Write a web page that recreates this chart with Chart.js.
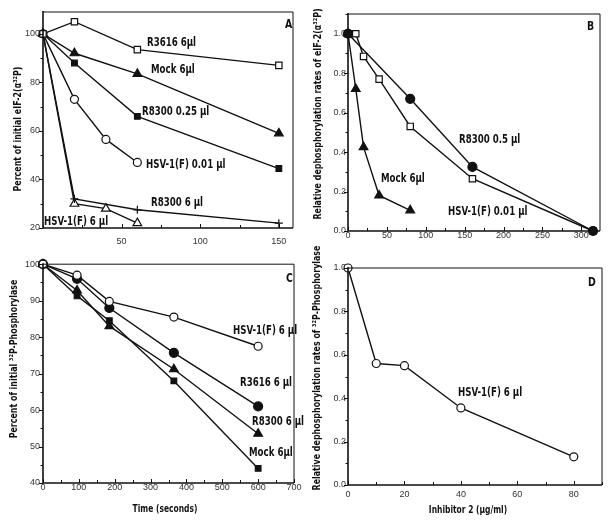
<!DOCTYPE html>
<html>
<head>
<meta charset="utf-8">
<script src="https://cdn.jsdelivr.net/npm/chart.js@4.4.1/dist/chart.umd.min.js"></script>
<style>
  body { margin: 0; background: #fff; }
  #page { position: relative; width: 616px; height: 524px; overflow: hidden; background: #fff; }
  canvas { position: absolute; }
</style>
</head>
<body>
<div id="page">
  <canvas id="chartA" width="300" height="258" style="left:0px;top:0px"></canvas>
  <canvas id="chartB" width="316" height="258" style="left:300px;top:0px"></canvas>
  <canvas id="chartC" width="312" height="266" style="left:0px;top:258px"></canvas>
  <canvas id="chartD" width="316" height="282" style="left:300px;top:242px"></canvas>
</div>
<script>
// Panel A - percent of initial eIF-2(a32P) vs time
let aTimeLong = [0, 20, 60, 150];
let aTimeShort = [0, 20, 40, 60];
let aR3616 = [100, 105, 93.5, 87];
let aMock = [100, 92, 83.5, 59];
let aR8300Low = [100, 88, 66, 44.5];
let aR8300High = [100, 32, 27.5, 22];
let aHsvLow = [100, 73, 56.5, 47];
let aHsvHigh = [100, 30, 28, 22];

// Panel B - relative dephosphorylation rates of eIF-2
let bDoseHsv = [0, 10, 20, 40, 80, 160, 315];
let bHsv = [1.0, 1.0, 0.885, 0.77, 0.53, 0.265, 0.0];
let bDoseR8300 = [0, 80, 160, 315];
let bR8300 = [1.0, 0.67, 0.325, 0.0];
let bDoseMock = [0, 10, 20, 40, 80];
let bMock = [1.0, 0.72, 0.425, 0.18, 0.105];

// Panel C - percent of initial 32P-phosphorylase vs time (seconds)
let cTime = [0, 95, 185, 365, 600];
let cHsv = [100, 97, 89.8, 85.5, 77.5];
let cR3616 = [100, 96, 88, 75.7, 61];
let cR8300 = [100, 92.8, 83, 71.2, 53.5];
let cMock = [100, 91.3, 84.5, 68, 44];

// Panel D - relative rates vs inhibitor 2 (ug/ml)
let dInhibitor = [0, 10, 20, 40, 80];
let dHsv = [1.0, 0.56, 0.55, 0.355, 0.13];

const BOLD = "'Liberation Sans Narrow', 'DejaVu Sans Condensed', 'Liberation Sans', sans-serif";
const LIGHT = "'Liberation Sans', Arial, sans-serif";
const SQUEEZE = 0.8;   // the figure uses a condensed bold face

// marker styles
const openSquare = { pointStyle: 'rect', pointRadius: 4.5, pointBackgroundColor: '#fff' };
const fillSquare = { pointStyle: 'rect', pointRadius: 4, pointBackgroundColor: '#111' };
const fillTriangle = { pointStyle: 'triangle', pointRadius: 5, pointBackgroundColor: '#111' };
const openTriangle = { pointStyle: 'triangle', pointRadius: 5, pointBackgroundColor: '#fff' };
const openCircle = { pointStyle: 'circle', pointRadius: 4, pointBackgroundColor: '#fff' };
const fillCircle = { pointStyle: 'circle', pointRadius: 4.5, pointBackgroundColor: '#111' };
const plusMark = { pointStyle: 'cross', pointRadius: 4, pointBackgroundColor: '#111' };

function series(xs, ys, marker) {
    return Object.assign({
        data: xs.map((x, i) => ({ x: x, y: ys[i] })),
        showLine: true,
        clip: false,
        borderColor: '#111',
        borderWidth: 1.4,
        pointBorderColor: '#111',
        pointBorderWidth: 1.2
    }, marker);
}

function isMultiple(v, step) {
    let r = v / step;
    return Math.abs(r - Math.round(r)) < 1e-6;
}

function axis(min, max, step, labelStep, size, pad, fmt, skipZero) {
    return {
        type: 'linear',
        min: min,
        max: max,
        grid: { display: false, drawTicks: false },
        border: { display: false },
        ticks: {
            stepSize: step,
            includeBounds: false,
            autoSkip: false,
            maxRotation: 0,
            padding: pad,
            color: '#333',
            font: { family: LIGHT, size: 9 },
            callback: v => (isMultiple(v, labelStep) && !(skipZero && v === 0)) ? fmt(v) : ''
        },
        afterFit: s => {
            if (s.isHorizontal()) s.height = size; else s.width = size;
            s.paddingLeft = 0; s.paddingRight = 0; s.paddingTop = 0; s.paddingBottom = 0;
        }
    };
}

// condensed bold lettering, optionally rotated
function boldText(ctx, text, x, y, size, align, rotate) {
    ctx.save();
    ctx.translate(x, y);
    if (rotate) ctx.rotate(-Math.PI / 2);
    ctx.scale(SQUEEZE, 1);
    ctx.font = 'bold ' + size + 'px ' + BOLD;
    ctx.textAlign = align;
    ctx.textBaseline = 'middle';
    ctx.fillStyle = '#111';
    ctx.fillText(text, 0, 0);
    ctx.restore();
}

// frame, tick marks and all the lettering of the figure
const paperPlugin = {
    id: 'paper',
    afterDraw(chart, args, opts) {
        let ctx = chart.ctx, a = chart.chartArea;
        let sx = chart.scales.x, sy = chart.scales.y;
        ctx.save();
        ctx.strokeStyle = '#111';
        ctx.lineWidth = 1;
        ctx.beginPath();
        ctx.moveTo(a.left, a.top); ctx.lineTo(a.right, a.top); ctx.lineTo(a.right, a.bottom);
        ctx.stroke();
        ctx.lineWidth = 1.6;
        ctx.beginPath();
        ctx.moveTo(a.left, a.top - 1); ctx.lineTo(a.left, a.bottom); ctx.lineTo(a.right, a.bottom);
        ctx.stroke();

        ctx.lineWidth = 1;
        ctx.beginPath();
        sy.ticks.forEach(t => {
            let py = Math.round(sy.getPixelForValue(t.value)) + 0.5;
            let len = t.label ? 4 : 2.5;
            ctx.moveTo(a.left - len, py); ctx.lineTo(a.left, py);
        });
        sx.ticks.forEach(t => {
            let px = Math.round(sx.getPixelForValue(t.value)) + 0.5;
            let len = t.label ? 4 : 3;
            ctx.moveTo(px, a.bottom); ctx.lineTo(px, a.bottom - len);
        });
        ctx.stroke();
        ctx.restore();

        opts.labels.forEach(l => boldText(ctx, l[0], l[1] - opts.dx, l[2] - opts.dy, 12, 'left'));
        boldText(ctx, opts.letter[0], opts.letter[1] - opts.dx, opts.letter[2] - opts.dy, 13, 'left');
        if (opts.xTitle) {
            boldText(ctx, opts.xTitle[0], opts.xTitle[1] - opts.dx, opts.xTitle[2] - opts.dy, 10.5, 'center');
        }
        boldText(ctx, opts.yTitle[0], opts.yTitle[1] - opts.dx, opts.yTitle[2] - opts.dy, 11, 'center', true);
    }
};

function makePanel(id, datasets, pad, xAxis, yAxis, paper) {
    let ctx = document.getElementById(id).getContext('2d');
    return new Chart(ctx, {
        type: 'scatter',
        data: { datasets: datasets },
        options: {
            responsive: false,
            animation: false,
            events: [],
            layout: { padding: { top: pad[0], right: pad[1], left: 0, bottom: 0 } },
            plugins: { legend: { display: false }, tooltip: { enabled: false }, paper: paper },
            scales: { x: xAxis, y: yAxis }
        },
        plugins: [paperPlugin]
    });
}

const num = v => String(v);
const dec = v => v.toFixed(1);

makePanel('chartA', [
    series(aTimeLong, aR3616, openSquare),
    series(aTimeLong, aMock, fillTriangle),
    series(aTimeLong, aR8300Low, fillSquare),
    series(aTimeShort, aHsvLow, openCircle),
    series(aTimeLong, aR8300High, plusMark),
    series(aTimeShort, aHsvHigh, openTriangle)
], [12, 7],
    axis(0, 159, 25, 50, 30, 8, num, true),
    axis(20, 109, 10, 20, 43, 3, num, false),
    {
        dx: 0, dy: 0,
        labels: [
            ['R3616 6\u00b5l', 147, 42.5],
            ['Mock 6\u00b5l', 151, 69.5],
            ['R8300 0.25 \u00b5l', 142, 112],
            ['HSV-1(F) 0.01 \u00b5l', 146, 165],
            ['R8300 6 \u00b5l', 151, 203],
            ['HSV-1(F) 6 \u00b5l', 44, 221.5]
        ],
        letter: ['A', 285, 25],
        yTitle: ['Percent of initial eIF-2(\u03b1\u00b3\u00b2P)', 18, 129]
    });

makePanel('chartB', [
    series(bDoseR8300, bR8300, fillCircle),
    series(bDoseHsv, bHsv, openSquare),
    series(bDoseMock, bMock, fillTriangle)
], [14, 16],
    axis(0, 324, 25, 50, 27, -1, num, false),
    axis(0, 1.1, 0.1, 0.2, 48, 2, dec, false),
    {
        dx: 300, dy: 0,
        labels: [
            ['R8300 0.5 \u00b5l', 459, 140],
            ['Mock 6\u00b5l', 381, 179],
            ['HSV-1(F) 0.01 \u00b5l', 448, 211.5]
        ],
        letter: ['B', 587, 27],
        yTitle: ['Relative dephosphorylation rates of eIF-2(\u03b1\u00b3\u00b2P)', 318, 114]
    });

makePanel('chartC', [
    series(cTime, cHsv, openCircle),
    series(cTime, cR3616, fillCircle),
    series(cTime, cR8300, fillTriangle),
    series(cTime, cMock, fillSquare)
], [6, 18],
    axis(0, 700, 50, 100, 41, -1, num, false),
    axis(40, 100, 5, 10, 43, 3, num, false),
    {
        dx: 0, dy: 258,
        labels: [
            ['HSV-1(F) 6 \u00b5l', 233, 331],
            ['R3616 6 \u00b5l', 240, 383],
            ['R8300 6 \u00b5l', 252, 422],
            ['Mock 6\u00b5l', 249, 453]
        ],
        letter: ['C', 286, 279],
        xTitle: ['Time (seconds)', 165, 509],
        yTitle: ['Percent of initial \u00b3\u00b2P-Phosphorylase', 14, 359]
    });

makePanel('chartD', [
    series(dInhibitor, dHsv, openCircle)
], [26, 14],
    axis(0, 90, 10, 20, 39, 4.5, num, false),
    axis(0, 1.0, 0.1, 0.2, 48, 2, dec, false),
    {
        dx: 300, dy: 242,
        labels: [
            ['HSV-1(F) 6 \u00b5l', 458, 393]
        ],
        letter: ['D', 588, 283],
        xTitle: ['Inhibitor 2 (\u00b5g/ml)', 468, 510],
        yTitle: ['Relative dephosphorylation rates of \u00b3\u00b2P-Phosphorylase', 317, 368]
    });
</script>
</body>
</html>
